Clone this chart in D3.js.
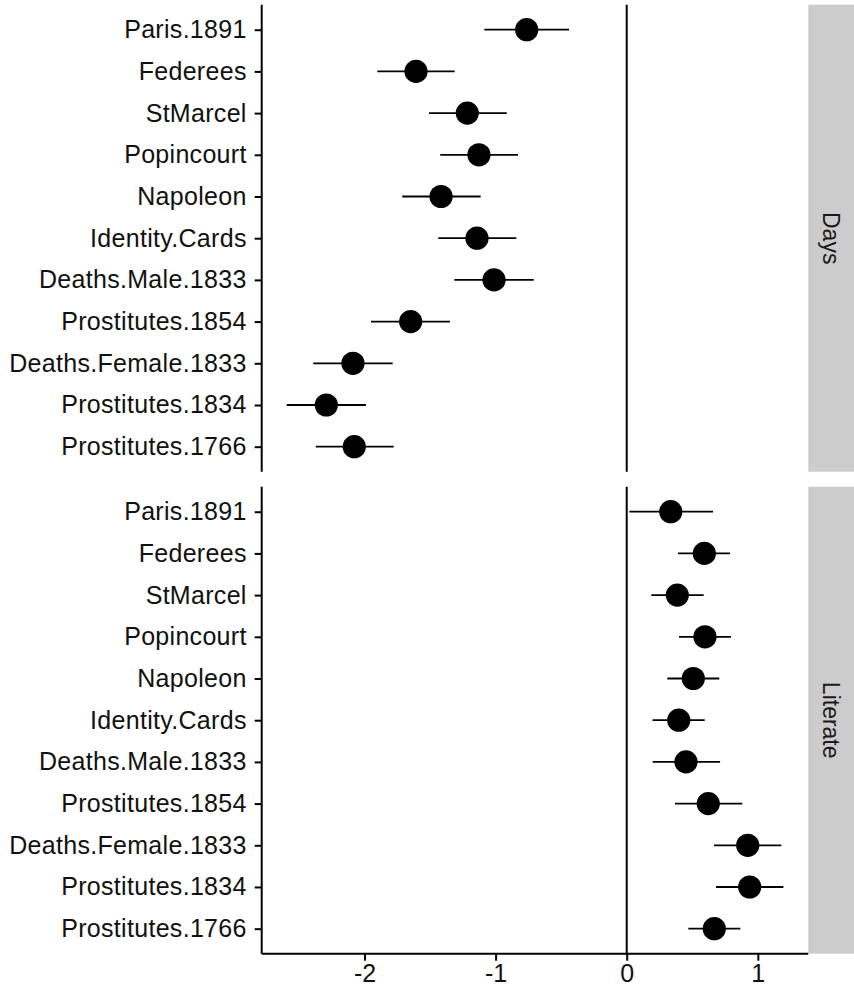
<!DOCTYPE html>
<html lang="en">
<head>
    <meta charset="UTF-8">
    <title>D3 - Coefficient plot</title>
    <script src="https://cdn.jsdelivr.net/npm/d3@7"></script>
    <style>
        body{
            margin: 0;
            background-color: white;
        }
        text{
            font-family: "Liberation Sans", Arial, sans-serif;
            fill: #111;
        }
        .axis path, .axis line{
            stroke: black;
            stroke-width: 2px;
        }
    </style>
</head>
<body>
<svg id="canvas" width="854" height="994"></svg>
<script>
    // rows, top to bottom
    let categories = ["Paris.1891", "Federees", "StMarcel", "Popincourt", "Napoleon", "Identity.Cards",
        "Deaths.Male.1833", "Prostitutes.1854", "Deaths.Female.1833", "Prostitutes.1834", "Prostitutes.1766"];
    let facets = ["Days", "Literate"];

    // Days: estimate, lower and upper bounds
    let daysEst = [-0.763, -1.607, -1.216, -1.127, -1.416, -1.142, -1.012, -1.648, -2.088, -2.291, -2.078];
    let daysLo  = [-1.086, -1.902, -1.508, -1.422, -1.712, -1.437, -1.315, -1.950, -2.391, -2.593, -2.372];
    let daysHi  = [-0.440, -1.312, -0.915, -0.829, -1.114, -0.842, -0.709, -1.348, -1.785, -1.989, -1.777];

    // Literate: estimate, lower and upper bounds
    let litEst = [0.336, 0.592, 0.386, 0.597, 0.508, 0.397, 0.452, 0.622, 0.923, 0.938, 0.668];
    let litLo  = [0.020, 0.391, 0.188, 0.399, 0.310, 0.197, 0.198, 0.368, 0.666, 0.681, 0.470];
    let litHi  = [0.658, 0.788, 0.587, 0.795, 0.706, 0.595, 0.712, 0.882, 1.179, 1.195, 0.867];

    let xTicks = [-2, -1, 0, 1];
    let xDomain = [-2.784, 1.385];

    let svg = d3.select('svg');
    let plotLeft = 261.7, plotRight = 808.3, stripW = 45.7;
    let panelTop = 4.7, panelH = 467, gap = 15;

    let x = d3.scaleLinear().domain(xDomain).range([plotLeft, plotRight]);
    let y = d3.scalePoint().domain(categories).range([0, panelH]).padding(0.6);

    let series = {
        "Days": categories.map((c, i) => ({cat: c, est: daysEst[i], lo: daysLo[i], hi: daysHi[i]})),
        "Literate": categories.map((c, i) => ({cat: c, est: litEst[i], lo: litLo[i], hi: litHi[i]}))
    };

    facets.forEach((f, k) => {
        let g = svg.append('g').attr("transform", "translate(0," + (panelTop + k * (panelH + gap)) + ")");

        // zero reference line
        g.append('line')
            .attr("x1", x(0)).attr("x2", x(0))
            .attr("y1", 0).attr("y2", panelH)
            .attr("stroke", "black").attr("stroke-width", 2);

        // error bars
        g.selectAll('line.bar')
            .data(series[f])
            .enter()
            .append('line')
            .attr("class", "bar")
            .attr("x1", d => x(d.lo)).attr("x2", d => x(d.hi))
            .attr("y1", d => y(d.cat)).attr("y2", d => y(d.cat))
            .attr("stroke", "black").attr("stroke-width", 1.8);

        // points
        g.selectAll('circle')
            .data(series[f])
            .enter()
            .append('circle')
            .attr("cx", d => x(d.est))
            .attr("cy", d => y(d.cat))
            .attr("r", 11.6)
            .attr("fill", "black");

        // y axis
        let yAxis = g.append('g')
            .attr("class", "axis")
            .attr("transform", "translate(" + plotLeft + ",0)")
            .call(d3.axisLeft(y).tickSize(7).tickPadding(8).tickSizeOuter(0));
        yAxis.selectAll('text')
            .style("font-size", "25px")
            .style("letter-spacing", "0.3px")
            .style("fill", "#111");
        yAxis.select('path.domain').attr("d", "M0,0V" + panelH);

        // x axis only on the last panel
        if (k === facets.length - 1) {
            let xAxis = g.append('g')
                .attr("class", "axis")
                .attr("transform", "translate(0," + panelH + ")")
                .call(d3.axisBottom(x).tickValues(xTicks).tickSize(7).tickPadding(4).tickSizeOuter(0)
                    .tickFormat(d => String(d)));
            xAxis.selectAll('text')
                .style("font-size", "25px")
                .style("fill", "#111");
            xAxis.select('path.domain').attr("d", "M" + plotLeft + ",0H" + plotRight);
        }

        // facet strip
        g.append('rect')
            .attr("x", plotRight).attr("y", 0)
            .attr("width", stripW).attr("height", panelH)
            .attr("fill", "#cccccc");
        g.append('text')
            .attr("transform", "translate(" + (plotRight + stripW / 2) + "," + (panelH / 2) + ") rotate(90)")
            .attr("text-anchor", "middle")
            .attr("dy", "0.35em")
            .style("font-size", "23px")
            .style("fill", "#1a1a1a")
            .text(f);
    });
</script>
</body>
</html>
